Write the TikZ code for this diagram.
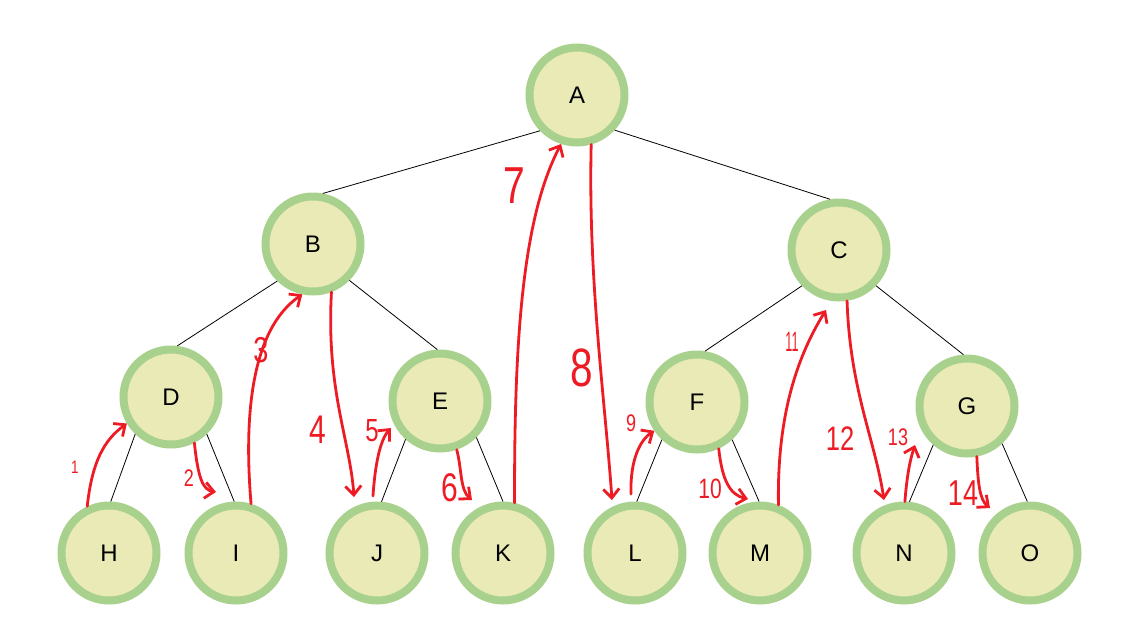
\documentclass[tikz,border=0pt]{standalone}
\usepackage{fontspec}
\setmainfont{Liberation Sans}
\usetikzlibrary{arrows.meta}
\definecolor{nodeborder}{HTML}{A9D18E}
\definecolor{nodefill}{HTML}{EAEAB6}
\definecolor{walkred}{HTML}{ED1C24}
\begin{document}
\begin{tikzpicture}[x=1pt,y=-1pt,
  tnode/.style={circle, draw=nodeborder, line width=8pt, fill=nodefill,
    minimum size=95pt, inner sep=0pt, outer sep=4pt,
    font=\fontsize{24}{26}\selectfont},
  edge/.style={draw=black, line width=0.8pt},
  walk/.style={draw=walkred, line width=2.8pt, line cap=round, line join=round,
    -{Straight Barb[length=9pt,width=16pt,line width=2.8pt]}},
  num/.style={text=walkred, inner sep=0pt, xscale=0.75},
  fs/.style={font=\fontsize{#1}{#1}\selectfont}]
\useasboundingbox (0,0) rectangle (1136,622);
% nodes
\node[tnode] (A) at (577,95) {A};
\node[tnode] (B) at (313,244) {B};
\node[tnode] (C) at (839,250) {C};
\node[tnode] (D) at (171,397) {D};
\node[tnode] (E) at (440,401) {E};
\node[tnode] (F) at (697,402) {F};
\node[tnode] (G) at (967,406) {G};
\node[tnode] (H) at (109,553) {H};
\node[tnode] (I) at (236,553) {I};
\node[tnode] (J) at (377,553) {J};
\node[tnode] (K) at (503,553) {K};
\node[tnode] (L) at (635,553) {L};
\node[tnode] (M) at (760,553) {M};
\node[tnode] (N) at (904,553) {N};
\node[tnode] (O) at (1030,553) {O};
% tree edges
\draw[edge] (A.224) -- (B.79);
\draw[edge] (A.317) -- (C.100);
\draw[edge] (B.226) -- (D.83);
\draw[edge] (B.315) -- (E.93);
\draw[edge] (C.224) -- (F.81);
\draw[edge] (C.316) -- (G.94);
\draw[edge] (D.226) -- (H.88);
\draw[edge] (D.314) -- (I.92);
\draw[edge] (E.228) -- (J.85);
\draw[edge] (E.315) -- (K.90);
\draw[edge] (F.227) -- (L.88);
\draw[edge] (F.313) -- (M.91);
\draw[edge] (G.229) -- (N.84);
\draw[edge] (G.313) -- (O.93);
% free ends of the walk arrows
\coordinate (e2) at (216,492);
\coordinate (e4) at (354,497);
\coordinate (s5) at (373,496);
\coordinate (e5) at (391,428);
\coordinate (e6) at (472,500);
\coordinate (e8) at (612,500);
\coordinate (s9) at (631,494);
\coordinate (e10) at (748,499);
\coordinate (e11) at (826,310);
\coordinate (e12) at (884,500);
\coordinate (e13) at (915,445);
\coordinate (e14) at (990,508);
% walk arrows
\draw[walk] (H.115) .. controls (92,462) and (104,440) .. (D.211);
\draw[walk] (D.297) .. controls (198,478) and (203,490) .. (e2);
\draw[walk] (I.73) .. controls (244,420) and (250,330) .. (B.258);
\draw[walk] (B.291) .. controls (326,390) and (350,440) .. (e4);
\draw[walk] (s5) .. controls (375,465) and (380,440) .. (e5);
\draw[walk] (E.289) .. controls (462,470) and (460,490) .. (e6);
\draw[walk] (K.77) .. controls (514,330) and (524,215) .. (A.252);
\draw[walk] (A.286) .. controls (588,280) and (605,400) .. (e8);
\draw[walk] (s9) .. controls (630,460) and (640,440) .. (F.214);
\draw[walk] (F.295) .. controls (722,480) and (730,495) .. (e10);
\draw[walk] (M.69) .. controls (777,420) and (795,360) .. (e11);
\draw[walk] (C.279) .. controls (850,390) and (875,440) .. (e12);
\draw[walk] (N.89) .. controls (907,475) and (910,460) .. (e13);
\draw[walk] (G.281) .. controls (978,485) and (980,500) .. (e14);
% step numbers
\node[num, fs=18] (n1) at (75,467) {1};
\node[num, fs=24] (n2) at (189,478) {2};
\node[num, fs=36] (n3) at (261,350) {3};
\node[num, fs=40] (n4) at (318,430) {4};
\node[num, fs=32] (n5) at (372,431) {5};
\node[num, fs=40] (n6) at (450,488) {6};
\node[num, fs=52] (n7) at (514,186) {7};
\node[num, fs=54] (n8) at (582,368) {8};
\node[num, fs=24] (n9) at (631,423) {9};
\node[num, fs=28] (n10) at (710,489) {10};
\node[num, fs=28, xscale=0.6] (n11) at (792,342) {11};
\node[num, fs=34] (n12) at (840,439) {12};
\node[num, fs=24] (n13) at (898,437) {13};
\node[num, fs=36] (n14) at (963,493) {14};
\end{tikzpicture}
\end{document}
